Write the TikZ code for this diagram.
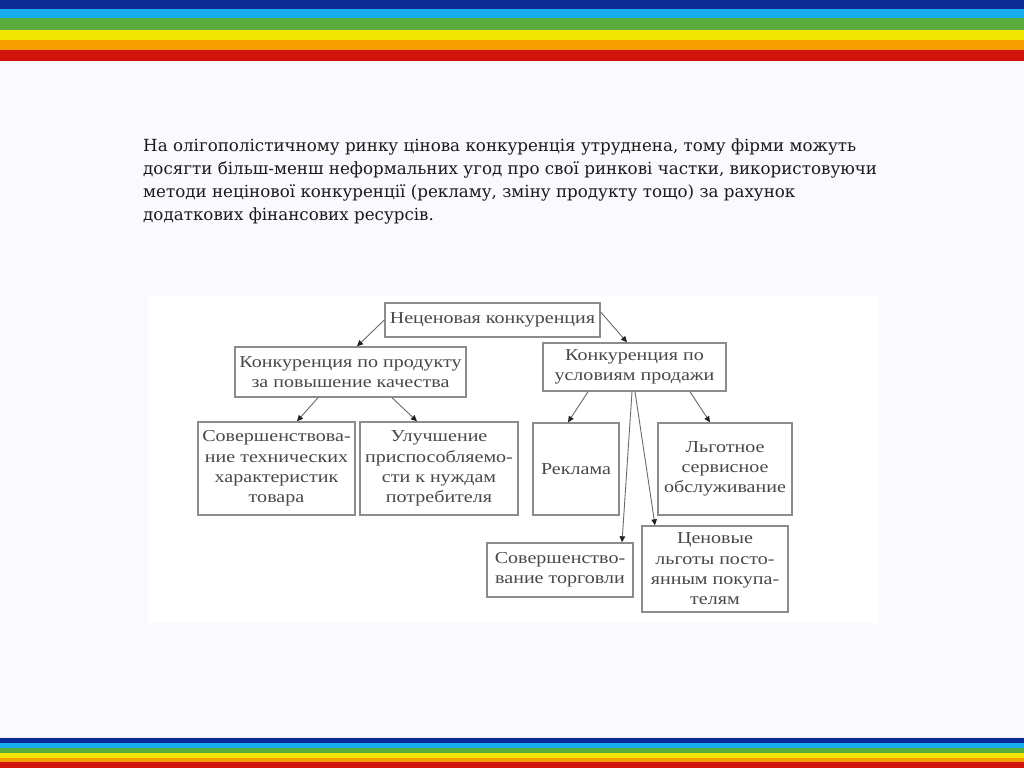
\documentclass[tikz,border=0pt]{standalone}
\usepackage{fontspec}
\setmainfont{Liberation Serif}
\newfontfamily\parafont{DejaVu Serif}
\newfontfamily\boxfont[FakeStretch=1.2]{Liberation Serif}
\usetikzlibrary{arrows.meta}
\definecolor{bgc}{HTML}{FAFAFE}
\definecolor{sdblue}{HTML}{0B2A96}
\definecolor{slblue}{HTML}{17AEF0}
\definecolor{sgreen}{HTML}{5AAC3C}
\definecolor{syellow}{HTML}{F2E600}
\definecolor{sorange}{HTML}{F89C00}
\definecolor{sred}{HTML}{D0140C}
\definecolor{boxc}{HTML}{8C8C8C}
\definecolor{txtc}{HTML}{484848}
\definecolor{linec}{HTML}{6A6A6A}
\definecolor{tipc}{HTML}{222222}
\definecolor{parac}{HTML}{1A1A1A}
\begin{document}
\begin{tikzpicture}[x=1pt,y=-1pt,
  box/.style={draw=boxc, line width=1.4pt, fill=white, align=center, text=txtc,
    font=\boxfont\fontsize{16.7}{20.3}\selectfont, inner sep=0pt},
  conn/.style={draw=linec, line width=0.9pt, -{Triangle[length=6pt,width=5.5pt,color=tipc]}},
  para/.style={anchor=base west, inner sep=0pt, text=parac, font=\parafont\fontsize{16.7}{20}\selectfont}]
\useasboundingbox (0,0) rectangle (1024,768);
\fill[bgc] (0,0) rectangle (1024,768);
% top stripes
\fill[sdblue] (0,0) rectangle (1024,9);
\fill[slblue] (0,9) rectangle (1024,18);
\fill[sgreen] (0,18) rectangle (1024,30);
\fill[syellow] (0,30) rectangle (1024,40);
\fill[sorange] (0,40) rectangle (1024,50);
\fill[sred] (0,50) rectangle (1024,61);
% bottom stripes
\fill[sdblue] (0,738) rectangle (1024,743);
\fill[slblue] (0,743) rectangle (1024,748);
\fill[sgreen] (0,748) rectangle (1024,753);
\fill[syellow] (0,753) rectangle (1024,758);
\fill[sorange] (0,758) rectangle (1024,762);
\fill[sred] (0,762) rectangle (1024,768);
% paragraph
\node[para] (p1) at (143,151) {На олігополістичному ринку цінова конкуренція утруднена, тому фірми можуть};
\node[para] (p2) at (143,174) {досягти більш-менш неформальних угод про свої ринкові частки, використовуючи};
\node[para] (p3) at (143,197) {методи нецінової конкуренції (рекламу, зміну продукту тощо) за рахунок};
\node[para] (p4) at (143,220) {додаткових фінансових ресурсів.};
% diagram panel
\fill[white] (148,296) rectangle (878,623);
\node[box, minimum width=215pt, minimum height=34pt] (top) at (492.5,320) {Неценовая конкуренция};
\node[box, minimum width=231pt, minimum height=50pt] (left2) at (350.5,372) {Конкуренция по продукту\\за повышение качества};
\node[box, minimum width=183pt, minimum height=48pt] (right2) at (634.5,367) {Конкуренция по\\условиям продажи};
\node[box, minimum width=157pt, minimum height=93pt] (b1) at (276.5,468.5) {Совершенствова-\\ние технических\\характеристик\\товара};
\node[box, minimum width=158pt, minimum height=93pt] (b2) at (439,468.5) {Улучшение\\приспособляемо-\\сти к нуждам\\потребителя};
\node[box, minimum width=86pt, minimum height=92pt] (b3) at (576,469) {Реклама};
\node[box, minimum width=134pt, minimum height=92pt] (b4) at (725,469) {Льготное\\сервисное\\обслуживание};
\node[box, minimum width=146pt, minimum height=54pt] (b5) at (560,570) {Совершенство-\\вание торговли};
\node[box, minimum width=146pt, minimum height=86pt] (b6) at (715,569) {Ценовые\\льготы посто-\\янным покупа-\\телям};
% connectors
\draw[conn] (top.west) -- ([xshift=6.5pt]left2.north);
\draw[conn] ([yshift=8pt]top.east) -- ([xshift=-7.5pt]right2.north);
\draw[conn] ([xshift=-32.5pt]left2.south) -- ([xshift=20.5pt]b1.north);
\draw[conn] ([xshift=41.5pt]left2.south) -- ([xshift=-22pt]b2.north);
\draw[conn] ([xshift=-46.5pt]right2.south) -- ([xshift=-8pt]b3.north);
\draw[conn] ([xshift=55.5pt]right2.south) -- ([xshift=-15pt]b4.north);
\draw[conn] ([xshift=-2.5pt]right2.south) -- ([xshift=62pt]b5.north);
\draw[conn] ([xshift=0.5pt]right2.south) -- ([xshift=-60pt]b6.north);
\end{tikzpicture}
\end{document}
